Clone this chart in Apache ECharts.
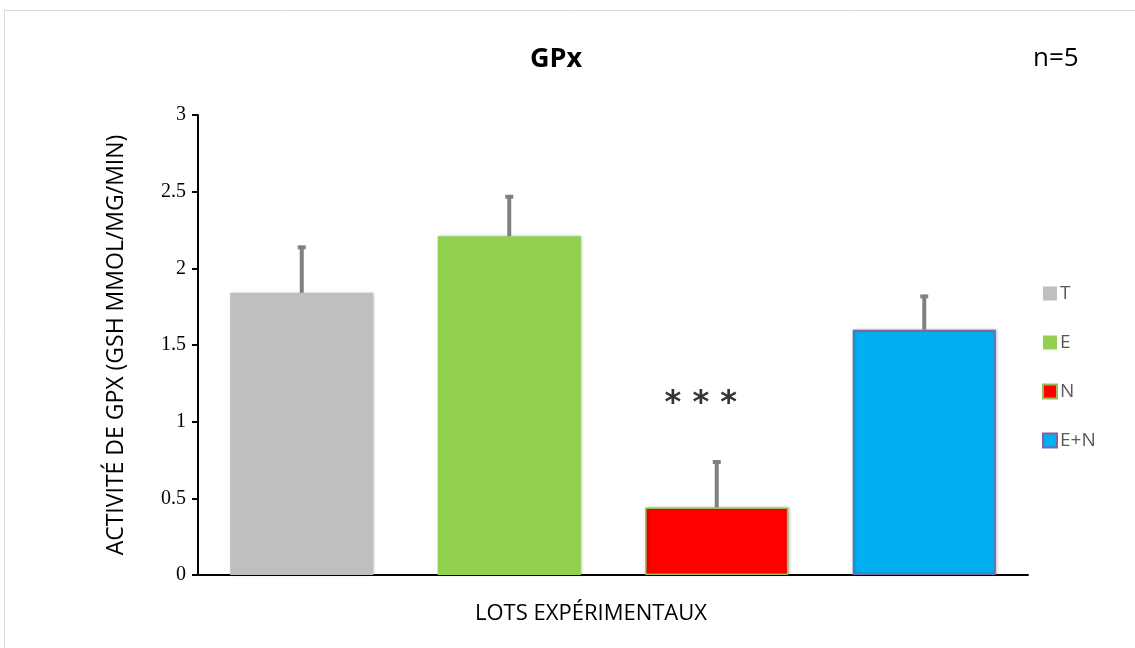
<!DOCTYPE html>
<html>
<head>
<meta charset="utf-8">
<script src="https://cdn.jsdelivr.net/npm/echarts@6/dist/echarts.min.js"></script>
<style>
  html, body { margin: 0; padding: 0; background: #fff; }
  #chart { width: 1135px; height: 648px; }
</style>
</head>
<body>
<div id="chart"></div>
<script>
// Groups, mean GPx activity and standard error (upper whisker only)
const categories = ['T', 'E', 'N', 'E+N'];
const means = [1.84, 2.21, 0.44, 1.60];
const errors = [0.31, 0.27, 0.31, 0.23];
const fills = ['#BFBFBF', '#92D050', '#FF0000', '#00B0F0'];
const borders = ['#BFBFBF', '#92D050', '#9BBB59', '#8064A2'];
const yTicks = [0, 0.5, 1, 1.5, 2, 2.5, 3];
const starValue = 1.12;

const chart = echarts.init(document.getElementById('chart'));

const barSeries = categories.map((name, i) => ({
  name: name,
  type: 'bar',
  barWidth: '69%',
  barGap: '-100%',
  data: categories.map((_, j) => (j === i ? means[j] : '-')),
  itemStyle: {
    color: fills[i],
    borderColor: borders[i],
    borderWidth: i >= 2 ? 1.5 : 0,
    shadowColor: 'rgba(0,0,0,0.25)',
    shadowBlur: 3,
    shadowOffsetX: 1,
    shadowOffsetY: 0
  },
  z: 2
}));

const errorSeries = {
  type: 'custom',
  name: 'err',
  z: 3,
  data: categories.map((c, i) => [i, means[i], means[i] + errors[i]]),
  renderItem: function (params, api) {
    const x = api.value(0);
    const low = api.coord([x, api.value(1)]);
    const high = api.coord([x, api.value(2)]);
    const capW = 8;
    return {
      type: 'group',
      children: [
        { type: 'line', shape: { x1: low[0], y1: low[1], x2: high[0], y2: high[1] + 2 },
          style: { stroke: '#808080', lineWidth: 4 } },
        { type: 'rect', shape: { x: high[0] - capW / 2, y: high[1], width: capW, height: 4 },
          style: { fill: '#808080' } }
      ]
    };
  }
};

const starSeries = {
  type: 'scatter',
  name: 'sig',
  symbolSize: 0,
  data: [[2, starValue]],
  label: {
    show: true,
    formatter: '* * *',
    position: 'inside',
    offset: [-16, 0],
    color: '#000',
    fontSize: 32,
    fontWeight: 'bold',
    fontFamily: 'DejaVu Sans'
  },
  z: 4
};

chart.setOption({
  animation: false,
  backgroundColor: '#fff',
  title: {
    text: 'GPx',
    left: 551,
    top: 41,
    textAlign: 'center',
    textStyle: { fontFamily: 'Open Sans', fontWeight: 'bold', fontSize: 27, color: '#000' }
  },
  graphic: [
    { type: 'rect', shape: { x: 4.5, y: 10.5, width: 1140, height: 640 },
      style: { fill: 'none', stroke: '#D9D9D9', lineWidth: 1 }, silent: true },
    { type: 'text', left: 1033, top: 46,
      style: { text: 'n=5', fontFamily: 'Open Sans', fontSize: 26, fill: '#000' } },
    { type: 'text', x: 591, y: 603, silent: true,
      style: { text: 'LOTS EXPÉRIMENTAUX', align: 'center', verticalAlign: 'top',
               fontFamily: 'Open Sans', fontSize: 22, fill: '#000' } }
  ],
  legend: {
    data: categories,
    orient: 'vertical',
    left: 1037,
    top: 279,
    itemWidth: 14,
    itemHeight: 14,
    itemGap: 30,
    icon: 'rect',
    textStyle: { fontFamily: 'Open Sans', fontSize: 19, color: '#595959', padding: [0, 0, 0, -2] }
  },
  grid: { left: 198, right: 107, top: 115, bottom: 73 },
  xAxis: {
    type: 'category',
    data: categories,
    axisLine: { lineStyle: { color: '#000', width: 2 } },
    axisTick: { show: false },
    axisLabel: { show: false }
  },
  yAxis: {
    type: 'value',
    min: yTicks[0],
    max: yTicks[yTicks.length - 1],
    interval: 0.5,
    name: 'ACTIVITÉ DE GPX (GSH MMOL/MG/MIN)',
    nameLocation: 'middle',
    nameGap: 70,
    nameTextStyle: { fontFamily: 'Open Sans', fontSize: 23, color: '#000' },
    axisLine: { show: true, lineStyle: { color: '#000', width: 2 } },
    axisTick: { show: true, length: 6, lineStyle: { color: '#000', width: 2 } },
    axisLabel: { fontFamily: 'Liberation Serif', fontSize: 20, color: '#000', margin: 12 },
    splitLine: { show: false }
  },
  series: [...barSeries, errorSeries, starSeries]
});
</script>
</body>
</html>
